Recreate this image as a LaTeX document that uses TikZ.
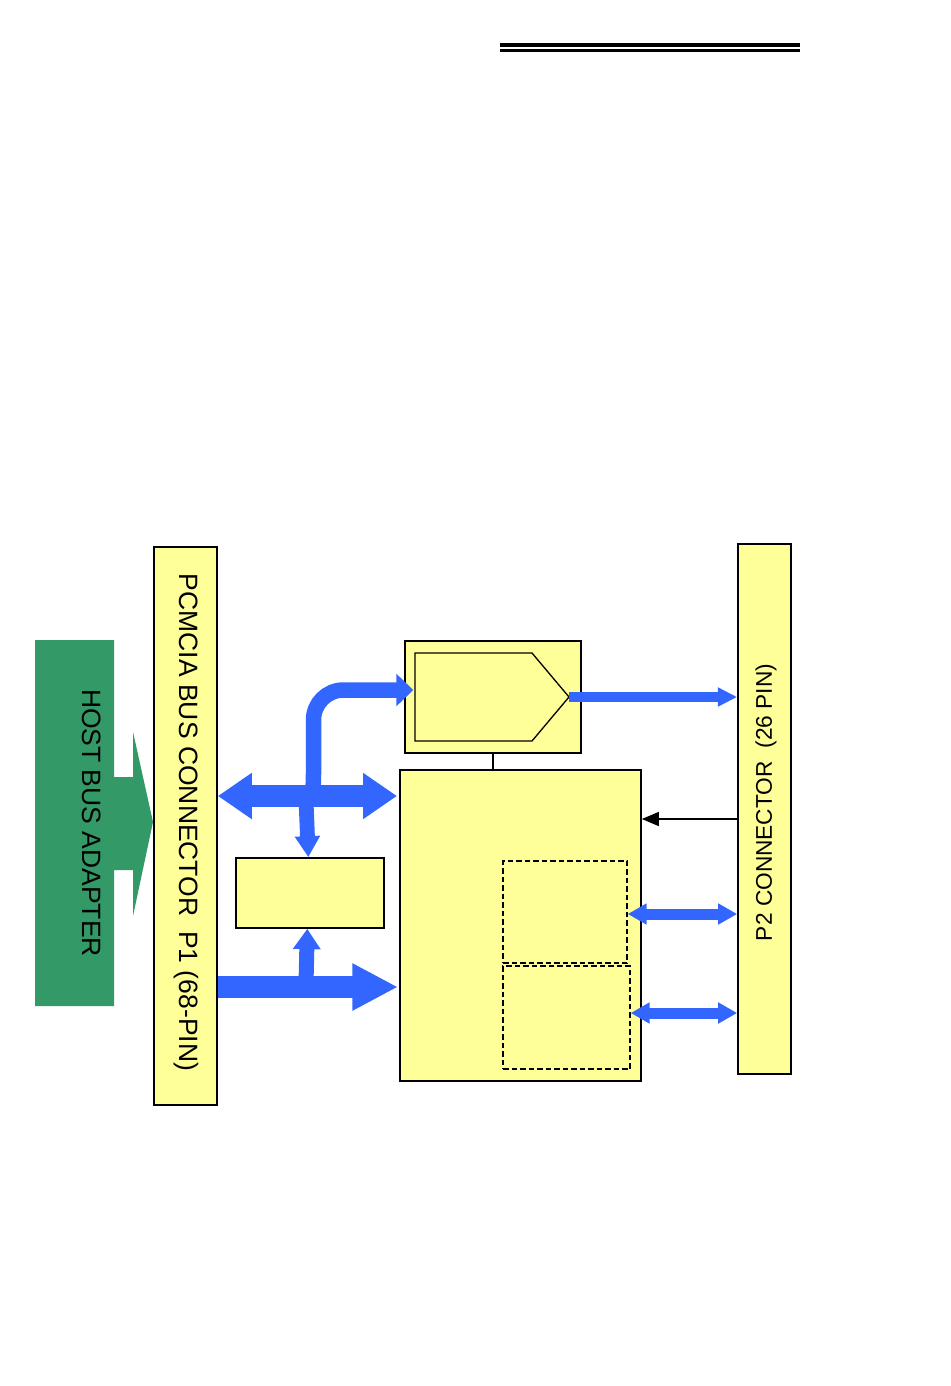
\documentclass[tikz,border=0pt]{standalone}
\usepackage{fontspec}
\setmainfont{Liberation Sans}
\usetikzlibrary{arrows.meta}
\definecolor{ybox}{HTML}{FFFF99}
\definecolor{bluearr}{HTML}{3366FF}
\definecolor{greenarr}{HTML}{339966}
\tikzset{
  yboxst/.style={draw=black, fill=ybox, line width=1.7pt, inner sep=0pt},
  dashbox/.style={draw=black, dashed, dash pattern=on 5.5pt off 3pt, line width=1.3pt, inner sep=0pt},
  bl/.style={draw=bluearr, line cap=butt},
  bigfont/.style={font=\fontsize{26.5}{30}\selectfont},
  midfont/.style={font=\fontsize{22.7}{26}\selectfont}
}
\begin{document}
\begin{tikzpicture}[x=1pt,y=-1pt]
\useasboundingbox (0,0) rectangle (950,1386);
\fill[white] (0,0) rectangle (950,1386);

% top double rule
\draw[line width=3.4pt] (500,45) coordinate (r1a) -- (800,45) coordinate (r1b);
\draw[line width=3.4pt] (500,50.4) coordinate (r2a) -- (800,50.4) coordinate (r2b);

% green host bus adapter shape
\fill[greenarr] (35,640) -- (114,640) -- (114,777) -- (133,777) -- (133,732)
  -- (153,822) -- (133,916) -- (133,870) -- (114,870) -- (114,1006) -- (35,1006) -- cycle;
\node[bigfont, rotate=-90] (host) at (91.5,823) {HOST BUS ADAPTER};

% boxes
\node[yboxst, minimum width=63pt, minimum height=558pt] (pcmcia) at (185.5,826) {};
\node[bigfont, rotate=-90] (pcmciat) at (186,822.5) {PCMCIA BUS CONNECTOR\ \ P1 (68-PIN)};

\node[yboxst, minimum width=53pt, minimum height=530pt] (p2) at (764.5,809) {};
\node[midfont, rotate=90] (p2t) at (766,802.5) {P2 CONNECTOR\ \ (26 PIN)};

\node[yboxst, minimum width=176pt, minimum height=112pt] (topbox) at (493,697) {};
\draw[line width=1.3pt] (415,653) -- (532,653) -- (569,697) coordinate (pent) -- (532,741) -- (415,741) -- cycle;
\coordinate (uptip) at (413.3,690);

\node[yboxst, minimum width=241pt, minimum height=311pt] (big) at (520.5,925.5) {};
\node[yboxst, minimum width=148pt, minimum height=70pt] (small) at (310,893) {};
\node[dashbox, minimum width=124pt, minimum height=102pt] (d1) at (565,912) {};
\node[dashbox, minimum width=127pt, minimum height=103pt] (d2) at (566.5,1017.5) {};

% thin connectors
\draw[line width=1.5pt] (topbox.south) -- (big.north -| topbox.south);
\draw[line width=1.5pt, -{Triangle[length=17pt,width=14pt]}] (p2.west |- 0,819) -- (big.east |- 0,819);

% blue arrows
\draw[bl, line width=15.5pt, -{Triangle[length=17pt,width=31.6pt]}]
  (303,796) .. controls (313.5,792) .. (313.5,770) [rounded corners=30pt] -- (313.5,690) -- (uptip);
\draw[bl, line width=14.8pt, -{Triangle[length=21pt,width=24pt]}] (306,800) -- (small.north -| 308.3,0);
\draw[bl, line width=21.7pt, {Triangle[length=34pt,width=44pt]}-{Triangle[length=34pt,width=44pt]}]
  (pcmcia.east |- 0,796) -- (397,796);
\draw[bl, line width=21.7pt, -{Triangle[length=45.6pt,width=44pt]}]
  (pcmcia.east |- 0,987) -- (398,987);
\draw[bl, line width=15pt, -{Triangle[length=20.3pt,width=26.6pt]}] (306,984) -- (small.south -| 307.3,0);

\draw[bl, line width=10pt, -{Triangle[length=19.3pt,width=18pt]}] (pent) -- (p2.west |- pent);
\draw[bl, line width=11pt, {Triangle[length=19pt,width=20pt]}-{Triangle[length=19pt,width=20pt]}]
  (d1.east |- 0,914) -- (p2.west |- 0,914);
\draw[bl, line width=11pt, {Triangle[length=19pt,width=20pt]}-{Triangle[length=19pt,width=20pt]}]
  (d2.east |- 0,1013) -- (p2.west |- 0,1013);
\end{tikzpicture}
\end{document}
